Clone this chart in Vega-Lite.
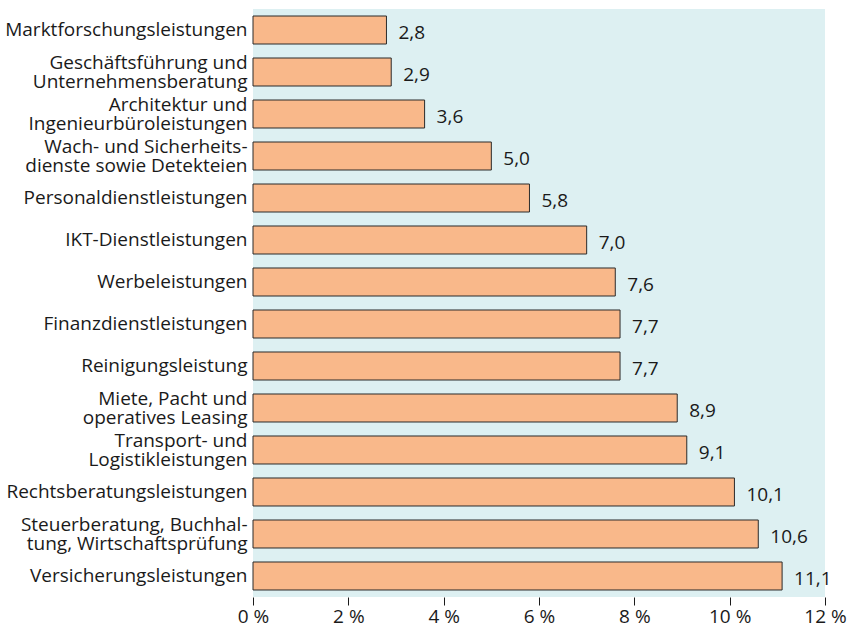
{
  "$schema": "https://vega.github.io/schema/vega-lite/v6.json",
  "autosize": {"type": "none"},
  "width": 572,
  "height": 588,
  "padding": {"left": 253, "top": 9, "right": 23, "bottom": 36},
  "background": "white",
  "data": {"values": [
    {"cat": "Marktforschungsleistungen", "val": 2.8},
    {"cat": "Geschäftsführung und|Unternehmensberatung", "val": 2.9},
    {"cat": "Architektur und|Ingenieurbüroleistungen", "val": 3.6},
    {"cat": "Wach- und Sicherheits-|dienste sowie Detekteien", "val": 5.0},
    {"cat": "Personaldienstleistungen", "val": 5.8},
    {"cat": "IKT-Dienstleistungen", "val": 7.0},
    {"cat": "Werbeleistungen", "val": 7.6},
    {"cat": "Finanzdienstleistungen", "val": 7.7},
    {"cat": "Reinigungsleistung", "val": 7.7},
    {"cat": "Miete, Pacht und|operatives Leasing", "val": 8.9},
    {"cat": "Transport- und|Logistikleistungen", "val": 9.1},
    {"cat": "Rechtsberatungsleistungen", "val": 10.1},
    {"cat": "Steuerberatung, Buchhal-|tung, Wirtschaftsprüfung", "val": 10.6},
    {"cat": "Versicherungsleistungen", "val": 11.1}
  ]},
  "encoding": {
    "y": {
      "field": "cat", "type": "nominal", "sort": null,
      "scale": {"paddingInner": 0.3333, "paddingOuter": 0.1667},
      "axis": {
        "title": null, "domain": false, "ticks": false, "labelPadding": 6,
        "labelExpr": "split(datum.value, '|')",
        "labelFontSize": 19, "labelColor": "#1a1a1a", "labelLineHeight": 19,
        "labelLimit": 300, "labelFont": "Open Sans", "labelBaseline": "middle",
        "labelOffset": {"condition": {"test": "indexof(datum.value, '|') >= 0", "value": -9}, "value": 0}
      }
    },
    "x": {
      "field": "val", "type": "quantitative",
      "scale": {"domain": [0, 12], "nice": false},
      "axis": {
        "title": null, "grid": false, "domain": false, "values": [0, 2, 4, 6, 8, 10, 12],
        "labelExpr": "datum.label + ' %'", "format": "d", "labelFlush": false, "labelOverlap": false,
        "tickSize": 8, "tickColor": "#1a1a1a", "labelFontSize": 19, "labelColor": "#1a1a1a",
        "labelFont": "Open Sans", "labelPadding": 2
      }
    }
  },
  "layer": [
    {"mark": {"type": "bar", "fill": "#f9b88a", "stroke": "#2b2b2b", "strokeWidth": 1}},
    {"mark": {"type": "text", "align": "left", "baseline": "middle", "dx": 12, "dy": 3, "fontSize": 19, "font": "Open Sans", "color": "#1a1a1a"},
     "encoding": {"text": {"field": "val", "type": "quantitative", "format": ".1f"}}}
  ],
  "config": {
    "view": {"fill": "#ddf0f2", "stroke": null},
    "locale": {"number": {"decimal": ",", "thousands": ".", "grouping": [3], "currency": ["", " €"]}}
  }
}
